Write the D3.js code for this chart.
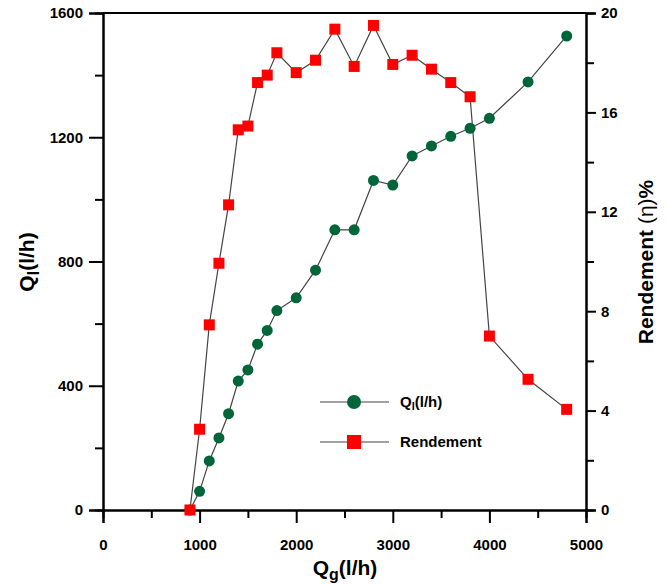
<!DOCTYPE html>
<html>
<head>
<meta charset="utf-8">
<script src="https://cdn.jsdelivr.net/npm/d3@7"></script>
<style>
  html, body { margin: 0; padding: 0; background: #fff; }
  svg { display: block; font-family: "Liberation Sans", Arial, sans-serif; }
</style>
</head>
<body>
<svg id="chart" width="667" height="585"></svg>
<script>
// Gas flow Qg (l/h) for the liquid-flow series
const qgLiquid = [900, 1000, 1100, 1200, 1300, 1400, 1500, 1600, 1700, 1800, 2000, 2200,
                  2400, 2600, 2800, 3000, 3200, 3400, 3600, 3800, 4000, 4400, 4800];
// Liquid flow Ql (l/h)
const qlValues = [0, 60, 158, 232, 310, 415, 451, 534, 578, 642, 683, 772,
                  902, 902, 1061, 1046, 1140, 1172, 1203, 1229, 1261, 1378, 1526];
// Gas flow Qg (l/h) for the efficiency series
const qgRend = [900, 1000, 1100, 1200, 1300, 1400, 1500, 1600, 1700, 1800, 2000, 2200,
                2400, 2600, 2800, 3000, 3200, 3400, 3600, 3800, 4000, 4400, 4800];
// Efficiency (%)
const rendValues = [0, 3.25, 7.45, 9.93, 12.28, 15.3, 15.45, 17.2, 17.5, 18.4, 17.6, 18.1,
                    19.35, 17.85, 19.5, 17.93, 18.3, 17.74, 17.2, 16.63, 7.0, 5.26, 4.05];

const xTicks = [0, 1000, 2000, 3000, 4000, 5000];
const xMinor = [500, 1500, 2500, 3500, 4500];
const yLeftTicks = [0, 400, 800, 1200, 1600];
const yLeftMinor = [200, 600, 1000, 1400];
const yRightTicks = [0, 4, 8, 12, 16, 20];
const yRightMinor = [2, 6, 10, 14, 18];

const svg = d3.select("#chart");
const plotLeft = 103, plotRight = 586, plotTop = 13, plotBottom = 510;

const x = d3.scaleLinear().domain([0, 5000]).range([plotLeft, plotRight]);
const yL = d3.scaleLinear().domain([0, 1600]).range([plotBottom, plotTop]);
const yR = d3.scaleLinear().domain([0, 20]).range([plotBottom, plotTop]);

const tickFont = "bold 15px 'Liberation Sans', Arial, sans-serif";

// Axes: major ticks carry labels, minor ticks are shorter
function styleAxis(g) {
  g.select(".domain").attr("stroke", "#000").attr("stroke-width", 2);
  g.selectAll(".tick line").attr("stroke", "#000").attr("stroke-width", 2);
  g.selectAll(".tick text").style("font", tickFont).attr("fill", "#000");
}

// Bottom axis
svg.append("g").attr("transform", `translate(0,${plotBottom})`)
  .call(d3.axisBottom(x).tickValues(xMinor).tickSize(8).tickFormat(""))
  .call(styleAxis);
svg.append("g").attr("transform", `translate(0,${plotBottom})`)
  .call(d3.axisBottom(x).tickValues(xTicks).tickSize(13).tickPadding(16).tickFormat(d3.format("d")))
  .call(styleAxis);

// Left axis
svg.append("g").attr("transform", `translate(${plotLeft},0)`)
  .call(d3.axisLeft(yL).tickValues(yLeftMinor).tickSize(8).tickFormat(""))
  .call(styleAxis);
svg.append("g").attr("transform", `translate(${plotLeft},0)`)
  .call(d3.axisLeft(yL).tickValues(yLeftTicks).tickSize(14).tickPadding(6).tickFormat(d3.format("d")))
  .call(styleAxis);

// Right axis
svg.append("g").attr("transform", `translate(${plotRight},0)`)
  .call(d3.axisRight(yR).tickValues(yRightMinor).tickSize(8).tickFormat(""))
  .call(styleAxis);
svg.append("g").attr("transform", `translate(${plotRight},0)`)
  .call(d3.axisRight(yR).tickValues(yRightTicks).tickSize(10).tickPadding(5).tickFormat(d3.format("d")))
  .call(styleAxis);

// Top frame line
svg.append("line")
  .attr("x1", plotLeft).attr("x2", plotRight).attr("y1", plotTop).attr("y2", plotTop)
  .attr("stroke", "#000").attr("stroke-width", 2);

// Series lines
const lineL = d3.line().x((d, i) => x(qgLiquid[i])).y(d => yL(d));
const lineR = d3.line().x((d, i) => x(qgRend[i])).y(d => yR(d));

svg.append("path").datum(qlValues).attr("d", lineL)
  .attr("fill", "none").attr("stroke", "#444").attr("stroke-width", 1.2);
svg.append("path").datum(rendValues).attr("d", lineR)
  .attr("fill", "none").attr("stroke", "#444").attr("stroke-width", 1.2);

const green = "#00663a", red = "#ff0000";

// Liquid flow markers
svg.append("g").selectAll("circle").data(qlValues).join("circle")
  .attr("cx", (d, i) => x(qgLiquid[i])).attr("cy", d => yL(d))
  .attr("r", 5.5).attr("fill", green);

// Efficiency markers
const sq = 11;
svg.append("g").selectAll("rect").data(rendValues).join("rect")
  .attr("x", (d, i) => x(qgRend[i]) - sq / 2).attr("y", d => yR(d) - sq / 2)
  .attr("width", sq).attr("height", sq).attr("fill", red);

// Legend
const leg = svg.append("g");
leg.append("line").attr("x1", 320).attr("x2", 389).attr("y1", 402).attr("y2", 402)
  .attr("stroke", "#444").attr("stroke-width", 1.2);
leg.append("circle").attr("cx", 354).attr("cy", 402).attr("r", 7).attr("fill", green);
const lt1 = leg.append("text").attr("x", 400).attr("y", 407)
  .style("font", "bold 15px 'Liberation Sans', Arial, sans-serif");
lt1.append("tspan").text("Q");
lt1.append("tspan").attr("dy", 3).style("font-size", "11px").text("l");
lt1.append("tspan").attr("dy", -3).text("(l/h)");

leg.append("line").attr("x1", 320).attr("x2", 389).attr("y1", 442).attr("y2", 442)
  .attr("stroke", "#444").attr("stroke-width", 1.2);
leg.append("rect").attr("x", 347).attr("y", 435).attr("width", 14).attr("height", 14).attr("fill", red);
leg.append("text").attr("x", 400).attr("y", 447)
  .style("font", "bold 15px 'Liberation Sans', Arial, sans-serif").text("Rendement");

// Axis titles
const titleFont = "bold 21px 'Liberation Sans', Arial, sans-serif";
const xt = svg.append("text").attr("x", 345).attr("y", 575).attr("text-anchor", "middle")
  .style("font", titleFont);
xt.append("tspan").text("Q");
xt.append("tspan").attr("dy", 5).style("font-size", "16px").text("g");
xt.append("tspan").attr("dy", -5).text("(l/h)");

const yt = svg.append("text").attr("transform", "translate(34,262) rotate(-90)")
  .attr("text-anchor", "middle").style("font", titleFont);
yt.append("tspan").text("Q");
yt.append("tspan").attr("dy", 5).style("font-size", "16px").text("l");
yt.append("tspan").attr("dy", -5).text("(l/h)");

const rt = svg.append("text").attr("transform", "translate(653,262) rotate(-90)")
  .attr("text-anchor", "middle").style("font", titleFont);
rt.append("tspan").text("Rendement ");
rt.append("tspan").style("font-weight", "normal").text("(η)");
rt.append("tspan").text("%");
</script>
</body>
</html>
